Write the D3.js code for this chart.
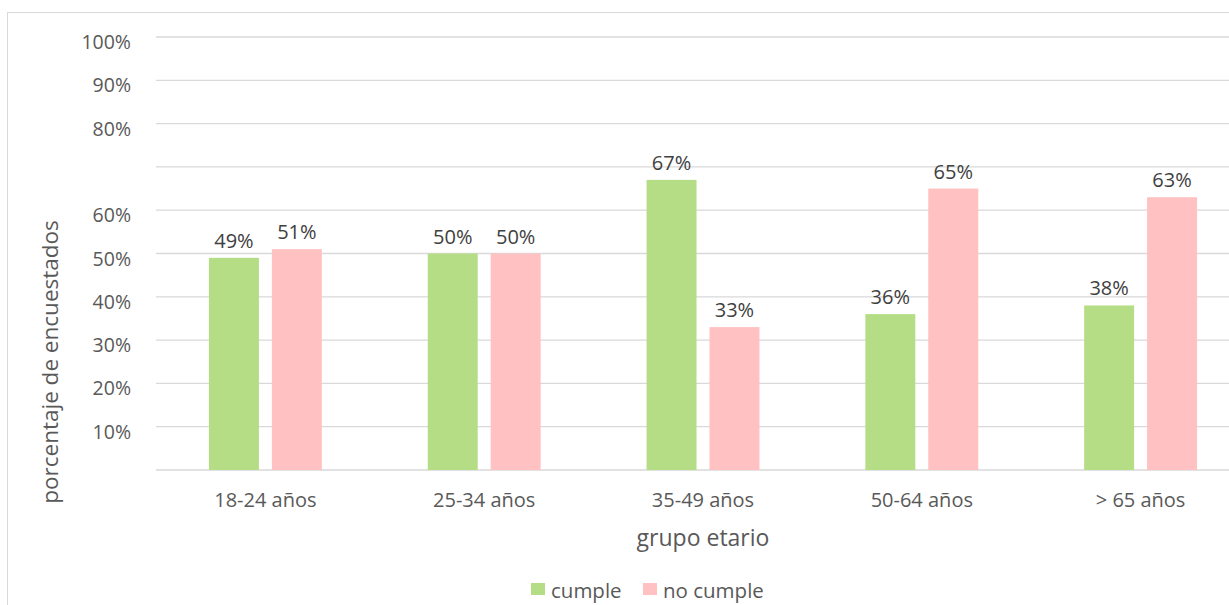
<!DOCTYPE html>
<html>
<head>
<meta charset="utf-8">
<script src="https://cdn.jsdelivr.net/npm/d3@7"></script>
<style>
  body { margin: 0; background: #fff; }
  svg { display: block; font-family: "Open Sans", "Noto Sans", sans-serif; }
</style>
</head>
<body>
<div id="chart"></div>
<script>
// data
let groups = ["18-24 años", "25-34 años", "35-49 años", "50-64 años", "> 65 años"];
let series = ["cumple", "no cumple"];
let cumple = [49, 50, 67, 36, 38];
let noCumple = [51, 50, 33, 65, 63];
let yTicks = [100, 90, 80, 60, 50, 40, 30, 20, 10];
let gridTicks = [100, 90, 80, 70, 60, 50, 40, 30, 20, 10, 0];
let colors = ["#b5dd86", "#ffc1c1"];

let width = 1229;
let height = 605;
let margin = {top: 37, left: 156, bottom: 135};

let svg = d3.select("#chart")
    .append("svg")
    .attr("width", width)
    .attr("height", height);

// chart frame
svg.append("rect")
    .attr("x", 7.5)
    .attr("y", 12.5)
    .attr("width", width + 20)
    .attr("height", height + 20)
    .attr("fill", "none")
    .attr("stroke", "#d9d9d9");

let y = d3.scaleLinear()
    .domain([0, 100])
    .range([height - margin.bottom, margin.top]);

let x0 = d3.scaleBand()
    .domain(groups)
    .range([margin.left, 1250])
    .paddingInner(0.484)
    .paddingOuter(0.242);

let x1 = d3.scaleBand()
    .domain(series)
    .range([0, x0.bandwidth()])
    .paddingInner(0.206);

// gridlines
svg.append("g")
    .selectAll("line")
    .data(gridTicks)
    .enter()
    .append("line")
    .attr("x1", margin.left)
    .attr("x2", width)
    .attr("y1", d => y(d))
    .attr("y2", d => y(d))
    .attr("stroke", "#d9d9d9")
    .attr("stroke-width", 1.3);

// y labels
svg.append("g")
    .selectAll("text")
    .data(yTicks)
    .enter()
    .append("text")
    .attr("x", 131)
    .attr("y", d => y(d) + 12)
    .attr("text-anchor", "end")
    .attr("font-size", 19.5)
    .attr("fill", "#595959")
    .text(d => d + "%");

let rows = groups.map((g, i) => ({group: g, values: [cumple[i], noCumple[i]]}));

let node = svg.selectAll(".grp")
    .data(rows)
    .enter()
    .append("g")
    .attr("class", "grp")
    .attr("transform", d => "translate(" + x0(d.group) + ",0)");

let bars = node.selectAll("g")
    .data(d => d.values.map((v, i) => ({key: series[i], value: v, i: i})))
    .enter()
    .append("g");

bars.append("rect")
    .attr("x", d => x1(d.key))
    .attr("width", x1.bandwidth())
    .attr("y", d => y(d.value))
    .attr("height", d => y(0) - y(d.value))
    .attr("fill", d => colors[d.i]);

bars.append("text")
    .attr("x", d => x1(d.key) + x1.bandwidth() / 2)
    .attr("y", d => y(d.value) - 10)
    .attr("text-anchor", "middle")
    .attr("font-size", 20)
    .attr("fill", "#404040")
    .text(d => d.value + "%");

// x labels
svg.append("g")
    .selectAll("text")
    .data(groups)
    .enter()
    .append("text")
    .attr("x", d => x0(d) + x0.bandwidth() / 2)
    .attr("y", 507)
    .attr("text-anchor", "middle")
    .attr("font-size", 20)
    .attr("fill", "#595959")
    .text(d => d);

// axis titles
svg.append("text")
    .attr("x", 703)
    .attr("y", 546)
    .attr("text-anchor", "middle")
    .attr("font-size", 23)
    .attr("fill", "#595959")
    .text("grupo etario");

svg.append("text")
    .attr("transform", "translate(58,362) rotate(-90)")
    .attr("text-anchor", "middle")
    .attr("font-size", 22.5)
    .attr("fill", "#595959")
    .text("porcentaje de encuestados");

// legend
let legendX = [531, 643];
let legend = svg.selectAll(".legend")
    .data(series)
    .enter()
    .append("g")
    .attr("class", "legend")
    .attr("transform", (d, i) => "translate(" + legendX[i] + ",583)");

legend.append("rect")
    .attr("width", 14)
    .attr("height", 12)
    .attr("fill", (d, i) => colors[i]);

legend.append("text")
    .attr("x", 20)
    .attr("y", 15)
    .attr("font-size", 20.5)
    .attr("fill", "#595959")
    .text(d => d);
</script>
</body>
</html>
